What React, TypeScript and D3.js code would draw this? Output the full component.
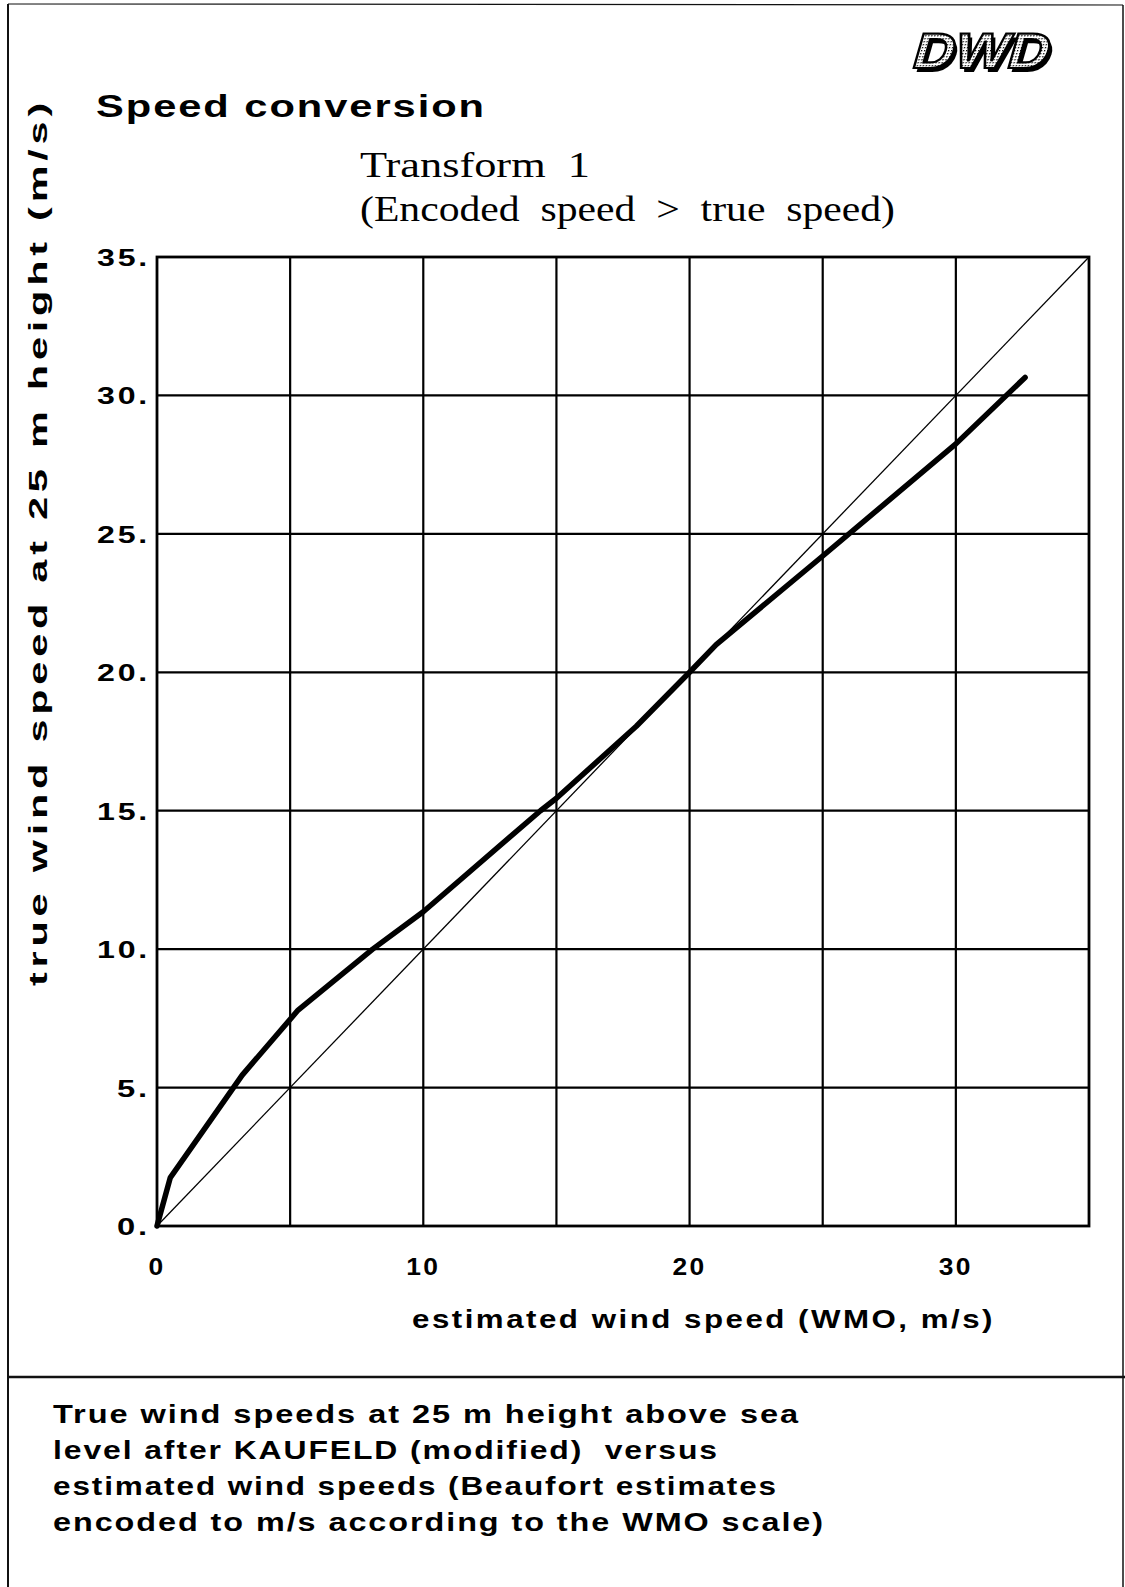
import React from "react";
import * as d3 from "d3";

const X_TICKS = [0, 10, 20, 30];
const Y_TICKS = [0, 5, 10, 15, 20, 25, 30, 35];
const GRID = [5, 10, 15, 20, 25, 30];
const ENCODED = [0, 0.5, 3.2, 5.3, 8.1, 10, 14.4, 15, 18, 20, 21, 25, 30, 32.6];
const TRUE_SPEED = [0, 1.75, 5.45, 7.8, 10, 11.35, 15, 15.45, 18.05, 20, 21, 24.2, 28.25, 30.65];
const IDENTITY = [0, 35];
const CAPTION = [
  "True wind speeds at 25 m height above sea",
  "level after KAUFELD (modified)  versus",
  "estimated wind speeds (Beaufort estimates",
  "encoded to m/s according to the WMO scale)",
];
const CAPTION_WIDTHS = [747, 666, 725, 772];

const W = 1125;
const H = 1587;
const plot = { left: 157, right: 1089, top: 257, bottom: 1226 };
const sans = "'Liberation Sans', Arial, Helvetica, sans-serif";
const serif = "'Liberation Serif', 'Times New Roman', serif";
const pre = { whiteSpace: "pre" as const };

export default function App() {
  const x = d3.scaleLinear().domain([0, 35]).range([plot.left, plot.right]);
  const y = d3.scaleLinear().domain([0, 35]).range([plot.bottom, plot.top]);

  const curve = d3.line<number>()
    .x((d) => x(d))
    .y((_, i) => y(TRUE_SPEED[i]))(ENCODED);
  const diag = d3.line<number>().x((d) => x(d)).y((d) => y(d))(IDENTITY);

  return (
    <svg width={W} height={H} viewBox={`0 0 ${W} ${H}`}
      style={{ position: "absolute", left: 0, top: 0, background: "#fff" }}>
      <defs>
        <pattern id="dots" width="3" height="3" patternUnits="userSpaceOnUse">
          <rect width="3" height="3" fill="#fff" />
          <rect width="1.3" height="1.3" fill="#000" />
        </pattern>
      </defs>
      <rect width={W} height={H} fill="#fff" />

      {/* page frame */}
      <line x1={8} x2={8} y1={4} y2={H} stroke="#111" strokeWidth={2} />
      <line x1={8} x2={W - 2} y1={4} y2={5} stroke="#111" strokeWidth={1.2} />
      <line x1={W - 2} x2={W - 2} y1={5} y2={H} stroke="#111" strokeWidth={1.5} />
      <line x1={8} x2={W} y1={1377} y2={1377} stroke="#111" strokeWidth={2.5} />

      {/* logo */}
      <g transform="translate(910,68) skewX(-16)">
        <text x={4} y={4} fontFamily={sans} fontWeight="bold" fontSize={50}
          textLength={136} lengthAdjust="spacingAndGlyphs" fill="#000">DWD</text>
        <text x={0} y={0} fontFamily={sans} fontWeight="bold" fontSize={50}
          textLength={136} lengthAdjust="spacingAndGlyphs"
          fill="url(#dots)" stroke="#000" strokeWidth={2.2}>DWD</text>
      </g>

      {/* titles */}
      <text x={96} y={117} fontFamily={sans} fontWeight="bold" fontSize={32} letterSpacing={1.5}
        textLength={390} lengthAdjust="spacingAndGlyphs" fill="#000">Speed conversion</text>
      <text x={360} y={177} fontFamily={serif} fontSize={36} style={pre}
        textLength={230} lengthAdjust="spacingAndGlyphs" fill="#000">Transform  1</text>
      <text x={360} y={221} fontFamily={serif} fontSize={36} style={pre}
        textLength={535} lengthAdjust="spacingAndGlyphs" fill="#000">(Encoded  speed  &gt;  true  speed)</text>

      {/* grid */}
      {GRID.map((g) => (
        <g key={g}>
          <line x1={x(g)} x2={x(g)} y1={plot.top} y2={plot.bottom} stroke="#000" strokeWidth={2.2} />
          <line x1={plot.left} x2={plot.right} y1={y(g)} y2={y(g)} stroke="#000" strokeWidth={2.2} />
        </g>
      ))}
      <rect x={plot.left} y={plot.top} width={plot.right - plot.left} height={plot.bottom - plot.top}
        fill="none" stroke="#000" strokeWidth={2.8} />

      {/* identity line and curve */}
      <path d={diag ?? ""} fill="none" stroke="#000" strokeWidth={1.3} />
      <path d={curve ?? ""} fill="none" stroke="#000" strokeWidth={5.5} strokeLinejoin="round" strokeLinecap="round" />

      {/* y ticks */}
      {Y_TICKS.map((t) => {
        const label = `${t}.`;
        return (
          <text key={t} x={150} y={y(t) + 9} textAnchor="end" fontFamily={sans} fontWeight="bold"
            fontSize={23} letterSpacing={2} textLength={label.length === 3 ? 53 : 33}
            lengthAdjust="spacingAndGlyphs" fill="#000">{label}</text>
        );
      })}
      {/* x ticks */}
      {X_TICKS.map((t) => (
        <text key={t} x={x(t)} y={1275} textAnchor="middle" fontFamily={sans} fontWeight="bold" fontSize={23}
          letterSpacing={2} textLength={t === 0 ? 17 : 34} lengthAdjust="spacingAndGlyphs" fill="#000">{t}</text>
      ))}

      {/* axis labels */}
      <text x={412} y={1328} fontFamily={sans} fontWeight="bold" fontSize={25} letterSpacing={2}
        textLength={583} lengthAdjust="spacingAndGlyphs" fill="#000">estimated wind speed (WMO, m/s)</text>
      <text transform="translate(47,986) rotate(-90)" x={0} y={0} fontFamily={sans} fontWeight="bold"
        fontSize={26} letterSpacing={3} textLength={888} lengthAdjust="spacingAndGlyphs" fill="#000">
        true wind speed at 25 m height (m/s)
      </text>

      {/* caption */}
      {CAPTION.map((line, i) => (
        <text key={i} x={53} y={1423 + i * 36} fontFamily={sans} fontWeight="bold" fontSize={25}
          letterSpacing={1.5} style={pre} textLength={CAPTION_WIDTHS[i]} lengthAdjust="spacingAndGlyphs"
          fill="#000">{line}</text>
      ))}
    </svg>
  );
}
